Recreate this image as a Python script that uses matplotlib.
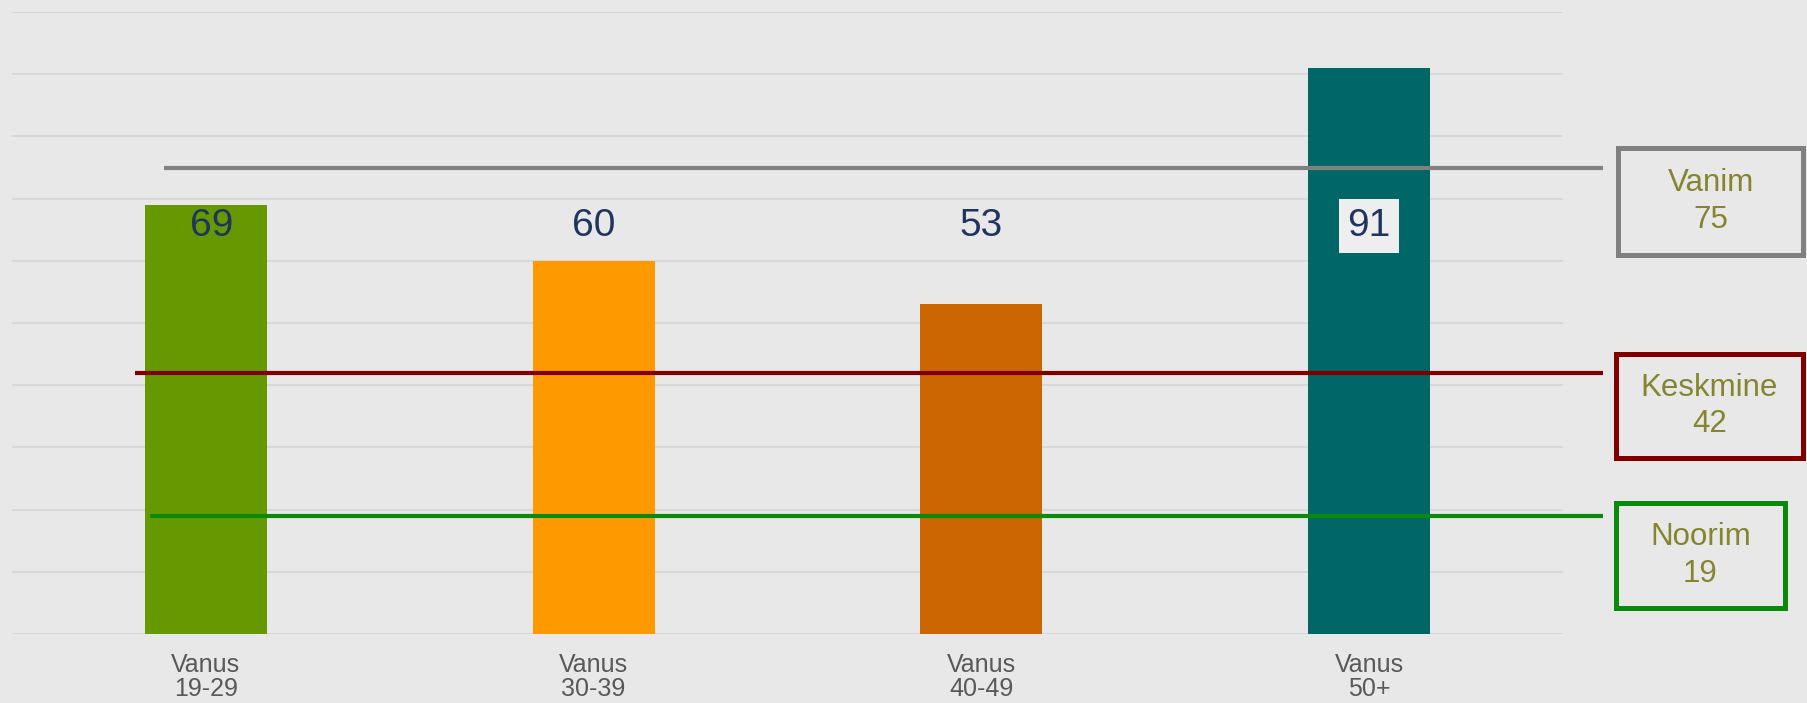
import matplotlib
matplotlib.use("Agg")
import matplotlib.pyplot as plt
from matplotlib.patches import Rectangle

plt.rcParams['font.family'] = ['Liberation Sans', 'DejaVu Sans']

# ---- data ----
categories = ["Vanus\n19-29", "Vanus\n30-39", "Vanus\n40-49", "Vanus\n50+"]
values = [69, 60, 53, 91]
bar_colors = ["#669900", "#FF9900", "#CC6600", "#006666"]

ref_names = ["Vanim", "Keskmine", "Noorim"]
ref_values = [75, 42, 19]
ref_colors = ["#808080", "#800000", "#0A8A0A"]

# ---- figure ----
W, H = 1808, 703
DPI = 100
bg = "#E8E8E8"
fig = plt.figure(figsize=(W / DPI, H / DPI), dpi=DPI, facecolor=bg)
ax = fig.add_axes([12 / W, (H - 634) / H, 1551 / W, 622 / H])
ax.set_facecolor(bg)
ax.set_xlim(-0.5, 3.5)
ax.set_ylim(0, 100)

ax.set_yticks(range(0, 101, 10))
ax.yaxis.grid(True, color="#D8D8D8", linewidth=1.5)
ax.set_axisbelow(True)
ax.tick_params(axis='y', left=False, labelleft=False)
for s in ax.spines.values():
    s.set_visible(False)

x = list(range(len(categories)))
ax.bar(x, values, width=0.314, color=bar_colors, zorder=2)

ax.set_xticks(x)
ax.set_xticklabels(categories, fontsize=18, color="#595959", linespacing=1.0)
ax.tick_params(axis='x', length=0, pad=14)

# value labels (placed on a common height)
label_y = 65.6
for i, v in enumerate(values):
    kw = {}
    if i == len(values) - 1:
        kw['bbox'] = dict(boxstyle="square,pad=0.22", facecolor="#EEEEEE", edgecolor="none")
    ax.text(i + (0.015 if i == 0 else 0), label_y, str(v), ha="center", va="center",
            fontsize=28, color="#1F3560", zorder=5, **kw)

# reference lines
line_starts = [-0.108, -0.183, -0.144]
line_end = 3.603
for name, val, col, xs in zip(ref_names, ref_values, ref_colors, line_starts):
    ax.plot([xs, line_end], [val, val], color=col, linewidth=3, clip_on=False,
            solid_capstyle='butt', zorder=4)

# legend boxes (figure pixel layout)
boxes = [(1618, 148, 1803, 255), (1616, 354, 1803, 458), (1616, 503, 1785, 608)]
for (x0, y0, x1, y1), name, val, col in zip(boxes, ref_names, ref_values, ref_colors):
    rect = Rectangle((x0 / W, 1 - y1 / H), (x1 - x0) / W, (y1 - y0) / H,
                     transform=fig.transFigure, facecolor=bg, edgecolor=col,
                     linewidth=3.6)
    fig.patches.append(rect)
    fig.text((x0 + x1) / 2 / W, 1 - (y0 + y1) / 2 / H, f"{name}\n{val}",
             ha="center", va="center", fontsize=22.5, color="#858530", linespacing=1.3)

fig.savefig("out.png", dpi=DPI, facecolor=bg)
